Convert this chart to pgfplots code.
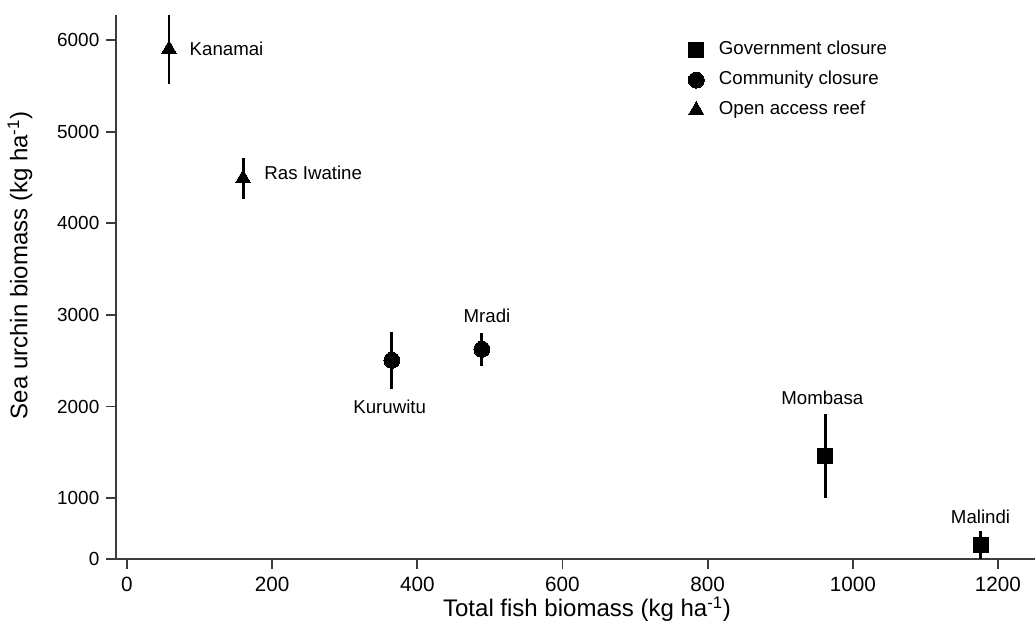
\documentclass[border=0pt]{standalone}
\usepackage{pgfplots}
\pgfplotsset{compat=1.18}
\usepackage{fontspec}
\setmainfont{Liberation Sans}
\definecolor{axisgray}{HTML}{3C3C3C}
\begin{document}
\begin{tikzpicture}
\begin{axis}[
  scale only axis, width=689pt, height=408pt,
  xmin=-15, xmax=1251, ymin=334, ymax=6273,
  clip=false,
  axis x line=bottom, axis y line=left,
  axis line style={draw=axisgray, line width=1.3pt, -},
  xtick={0,200,400,600,800,1000,1200},
  ytick={334,1000,2000,3000,4000,5000,6000},
  yticklabels={0,1000,2000,3000,4000,5000,6000},
  tick align=outside, major tick length=7.5pt,
  tick style={draw=axisgray, line width=1.3pt},
  /pgf/number format/assume math mode=true,
  /pgf/number format/1000 sep={},
  xticklabel style={font=\fontsize{15.5}{17}\selectfont, text=black, yshift=-2pt},
  yticklabel style={font=\fontsize{14.2}{16}\selectfont, text=black, xshift=-1.5pt},
  xlabel={Total fish biomass (kg ha\textsuperscript{-1})},
  ylabel={Sea urchin biomass (kg ha\textsuperscript{-1})},
  label style={font=\fontsize{18}{20}\selectfont},
  xlabel style={at={(axis description cs:0.5125,-0.092)}, anchor=center},
  ylabel style={at={(axis description cs:-0.1045,0.54)}, anchor=center},
  legend style={draw=none, fill=none, at={(axis description cs:0.6224,0.952)}, anchor=north west,
    font=\fontsize{14}{16}\selectfont, row sep=9.5pt, inner sep=0pt,
    nodes={inner sep=0pt, text height=10pt, text depth=3pt},
    /tikz/every odd column/.append style={column sep=11pt}},
  legend cell align=left,
  error bars/y dir=both, error bars/y explicit,
  error bars/error mark=none,
  error bars/error bar style={line width=2.2pt, black},
]
\addplot[only marks, mark=square*, mark size=5.6pt, mark options={fill=black, draw=black, line width=0pt}]
  table[x=x, y=y, y error=e] {
  x y e
  962 1460 461
  1176 487 150
};
\addlegendentry{Government closure}
\addplot[only marks, mark=*, mark size=6pt, mark options={fill=black, draw=black, line width=0pt}]
  table[x=x, y=y, y error=e] {
  x y e
  365 2505 312
  489 2625 178
};
\addlegendentry{Community closure}
\addplot[only marks, mark=triangle*, mark size=6.5pt, mark options={fill=black, draw=black, line width=0pt}]
  table[x=x, y=y, y error=e] {
  x y e
  58 5900 375
  160 4490 225
};
\addlegendentry{Open access reef}
\coordinate (bl) at (rel axis cs:0,0);
\coordinate (tr) at (rel axis cs:1,1);
\begin{scope}[font=\fontsize{14}{16}\selectfont]
\node[anchor=west] at (axis cs:80,5902) {Kanamai};
\node[anchor=west] at (axis cs:183,4548) {Ras Iwatine};
\node at (axis cs:362,1993) {Kuruwitu};
\node at (axis cs:496,2987) {Mradi};
\node at (axis cs:958,2092) {Mombasa};
\node at (axis cs:1176,793) {Malindi};
\end{scope}
\end{axis}
\pgfresetboundingbox
\path[use as bounding box] ([shift={(-87pt,-52.5pt)}]bl) rectangle ([shift={(0pt,11.25pt)}]tr);
\end{tikzpicture}
\end{document}
